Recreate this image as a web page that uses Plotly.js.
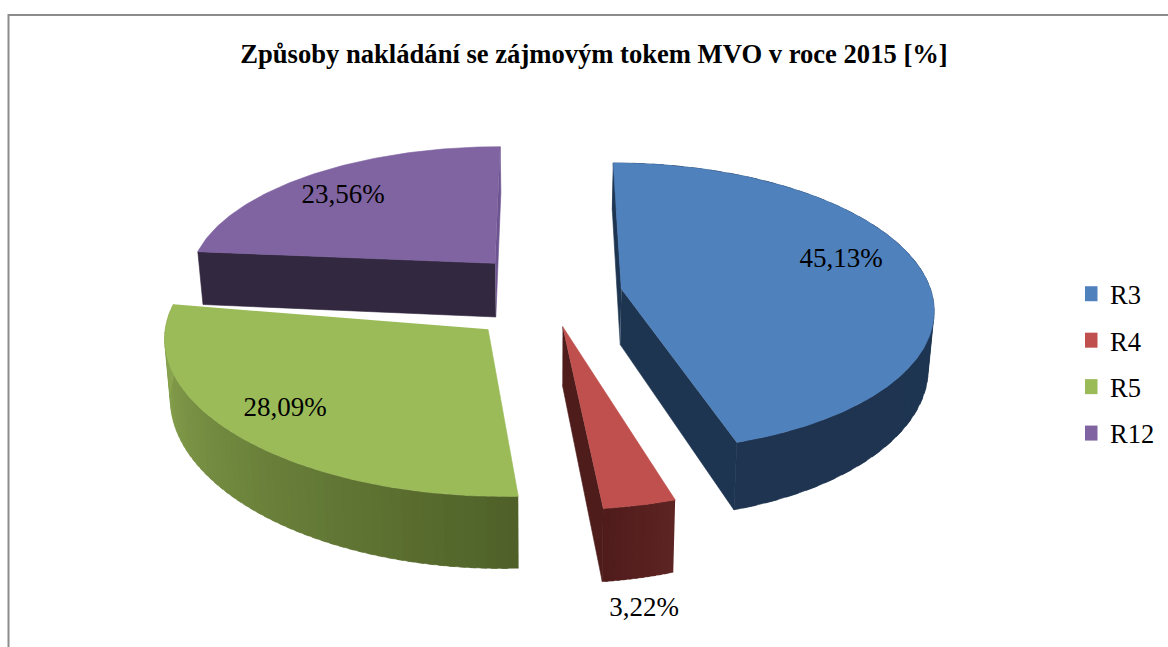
<!DOCTYPE html>
<html><head><meta charset="utf-8">
<script src="https://cdn.plot.ly/plotly-3.0.1.min.js"></script>
<style>html,body{margin:0;padding:0;background:#fff}#c{width:1168px;height:647px}</style>
</head><body><div id="c"></div>
<script>
const categories = ['R3','R4','R5','R12'];
const values = [45.13,3.22,28.09,23.56];
const titleText = 'Způsoby nakládání se zájmovým tokem MVO v roce 2015 [%]';
const topColors = ['#4f81bd','#c0504d','#9bbb59','#8064a2'];

// view geometry of the tilted disc
const G = {cx:546, cy:296, R:311, Rk:138, ex:.24, px:.12, py:.12, H:56, q:.18, shrink:.985};
const explodeZ = [.33,.22,.33,.33];
const stretchZ = [1.04,1.09,1,1];
const shear = [0,0,12,0];
const shiftX = [2,1,-4,-2];
const labelX = [841,644,285,343];
const labelY = [260,609,409,196];

const total = values.reduce((a,b)=>a+b,0);
let acc = 0;
const slices = values.map((v,i)=>{const a0=acc/total*2*Math.PI; acc+=v; const a1=acc/total*2*Math.PI; return {i,a0,a1,mid:(a0+a1)/2};});

function proj(s,th,r,drop){
  const X=r*Math.sin(th)+G.ex*Math.sin(s.mid), Z=r*stretchZ[s.i]*Math.cos(th)+explodeZ[s.i]*Math.cos(s.mid);
  let x=G.cx+G.R*X/(1+G.px*Z), y=G.cy-G.Rk*Z/(1+G.py*Z)+shear[s.i]*r*Math.sin(th);
  if(drop){ y+=G.H/(1+G.q*Z); x=G.cx+(x-G.cx)*G.shrink; }
  return [x+shiftX[s.i],y];
}
function arc(s,t0,t1,drop,n){const o=[];for(let k=0;k<=n;k++)o.push(proj(s,t0+(t1-t0)*k/n,1,drop));return o;}
const traces=[];
function poly(pts,color,w){
  traces.push({type:'scatter',mode:'lines',x:pts.map(p=>p[0]),y:pts.map(p=>p[1]),fill:'toself',fillcolor:color,
    line:{color:color,width:w===undefined?.6:w},showlegend:false,hoverinfo:'skip'});
}
function cutFace(s,th,color){
  poly([proj(s,th,0,false),proj(s,th,1,false),proj(s,th,1,true),proj(s,th,0,true)],color);
}
function outerFace(s,c0,c1,n){
  const lerp=(a,b,t)=>Math.round(a+(b-a)*t);
  const step=(s.a1-s.a0)/n;
  for(let k=0;k<n;k++){
    const t0=s.a0+step*k,t1=Math.min(s.a1,t0+step*1.6),f=k/(n-1);
    const col=`rgb(${lerp(c0[0],c1[0],f)},${lerp(c0[1],c1[1],f)},${lerp(c0[2],c1[2],f)})`;
    poly(arc(s,t0,t1,false,3).concat(arc(s,t1,t0,true,3)),col,.5);
  }
}
function topFace(s){
  poly([proj(s,0,0,false)].concat(arc(s,s.a0,s.a1,false,90)),topColors[s.i]);
}
const [sBlue,sRed,sGreen,sPurple]=slices;
// back to front
cutFace(sPurple,sPurple.a1,'#6d5490'); cutFace(sPurple,sPurple.a0,'#32283f'); topFace(sPurple);
cutFace(sBlue,sBlue.a0,'#1e3552'); cutFace(sBlue,sBlue.a1,'#1e3552'); outerFace(sBlue,[31,54,83],[30,52,80],40); topFace(sBlue);
cutFace(sRed,sRed.a1,'#4e1d1b'); outerFace(sRed,[92,36,34],[80,28,27],12); topFace(sRed);
outerFace(sGreen,[79,97,40],[142,170,82],60); topFace(sGreen);

// value labels
traces.push({type:'scatter',mode:'text',x:labelX,y:labelY,
  text:values.map(v=>v.toFixed(2).replace('.',',')+'%'),textposition:'middle center',
  textfont:{family:'Liberation Serif',size:27,color:'#000'},showlegend:false,hoverinfo:'skip'});

// legend entries
categories.forEach((c,i)=>traces.push({type:'scatter',mode:'markers',x:[null],y:[null],name:c,legendgroup:c,
  marker:{symbol:'square',size:15,color:topColors[i]},showlegend:true,hoverinfo:'skip'}));

const frameColor='#8c8c8c';
const layout={
  width:1168,height:647,margin:{l:0,r:0,t:0,b:0},paper_bgcolor:'#fff',plot_bgcolor:'#fff',
  title:{text:titleText,font:{family:'Liberation Serif',size:26.6,color:'#000',weight:700},x:594/1168,xanchor:'center',y:1-54/647,yanchor:'middle'},
  xaxis:{range:[0,1168],visible:false,fixedrange:true},
  yaxis:{range:[647,0],visible:false,fixedrange:true},
  showlegend:true,
  legend:{x:1085/1168,y:1-270/647,xanchor:'left',yanchor:'top',font:{family:'Liberation Serif',size:26.5,color:'#000'},
    tracegroupgap:9,itemwidth:30,indentation:-15,bgcolor:'rgba(0,0,0,0)',itemclick:false,itemdoubleclick:false},
  shapes:[
    {type:'line',xref:'x',yref:'y',x0:8.5,x1:8.5,y0:14,y1:647,line:{color:frameColor,width:2}},
    {type:'line',xref:'x',yref:'y',x0:8,x1:1168,y0:15,y1:15,line:{color:frameColor,width:2}}
  ]
};
Plotly.newPlot('c',traces,layout,{displayModeBar:false,staticPlot:true});
</script></body></html>
